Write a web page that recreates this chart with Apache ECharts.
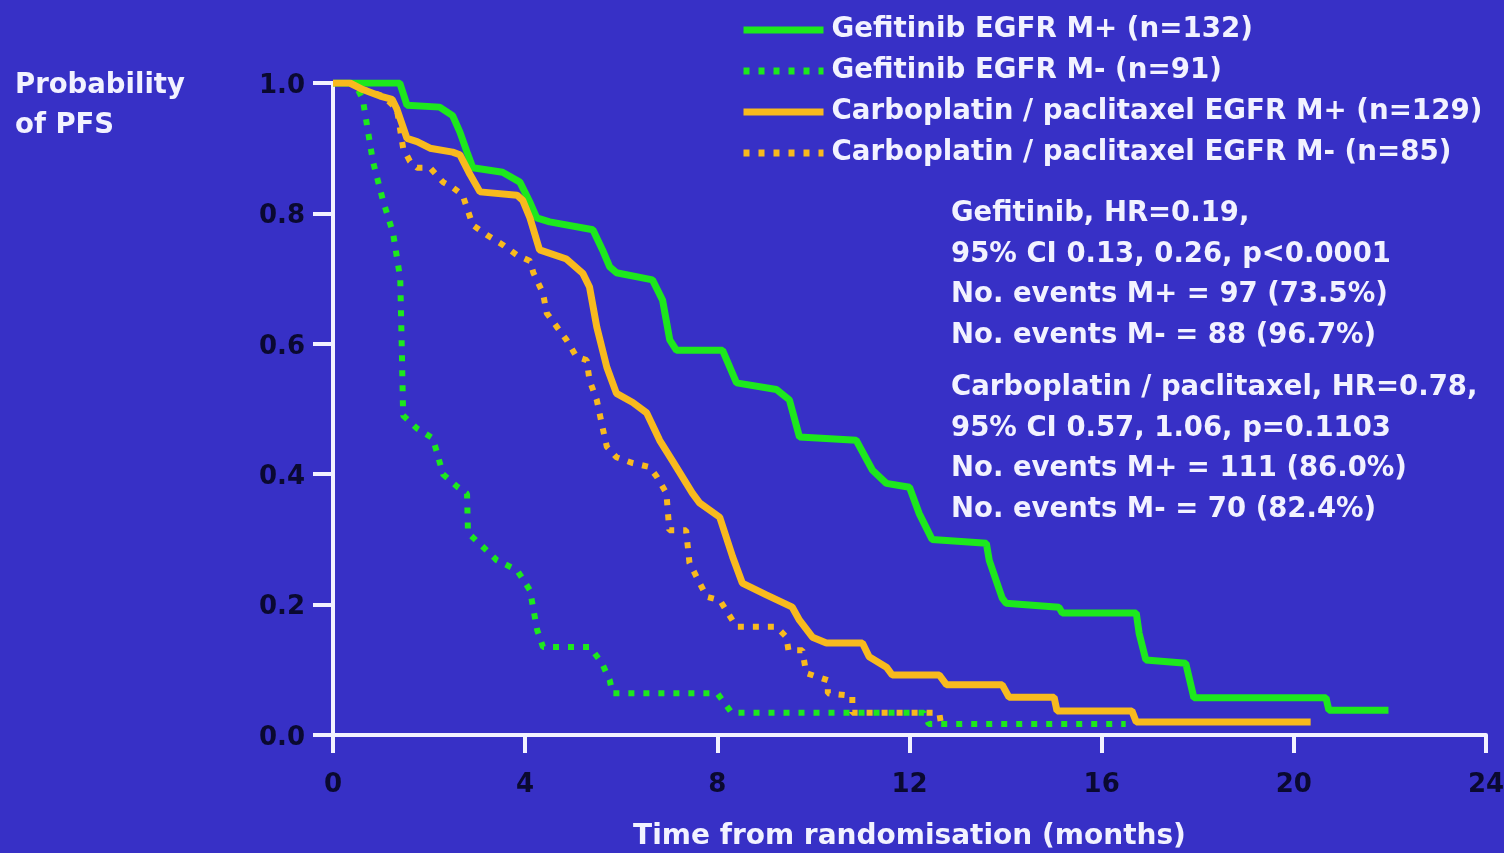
<!DOCTYPE html>
<html>
<head>
<meta charset="utf-8">
<script src="https://cdn.jsdelivr.net/npm/echarts@6/dist/echarts.min.js"></script>
<style>
html,body{margin:0;padding:0;background:#3730C6;overflow:hidden;}
#chart{width:1504px;height:853px;}
</style>
</head>
<body>
<div id="chart"></div>
<script>
// ---- data (time in months, probability of PFS) ----
const xTicks = [0, 4, 8, 12, 16, 20, 24];
const yTicks = [0.0, 0.2, 0.4, 0.6, 0.8, 1.0];

const seriesNames = [
  'Gefitinib EGFR M+ (n=132)',
  'Gefitinib EGFR M- (n=91)',
  'Carboplatin / paclitaxel EGFR M+ (n=129)',
  'Carboplatin / paclitaxel EGFR M- (n=85)'
];

const gefitinibPos = [
  [0,1.0],[1.39,1.0],[1.54,0.966],[2.22,0.963],[2.49,0.95],[2.64,0.925],[2.79,0.894],[2.91,0.87],
  [3.53,0.863],[3.89,0.848],[4.10,0.817],[4.24,0.793],[4.51,0.787],[5.41,0.775],[5.61,0.744],
  [5.76,0.718],[5.90,0.709],[6.65,0.698],[6.86,0.667],[7.01,0.606],[7.15,0.59],[8.11,0.59],
  [8.40,0.54],[9.23,0.53],[9.50,0.514],[9.71,0.457],[10.89,0.452],[11.23,0.406],[11.52,0.386],
  [12.0,0.38],[12.2,0.34],[12.47,0.30],[13.6,0.294],[13.66,0.268],[13.93,0.21],[14.01,0.202],
  [15.11,0.196],[15.18,0.187],[16.72,0.187],[16.78,0.156],[16.92,0.115],[17.75,0.11],
  [17.92,0.057],[20.67,0.057],[20.73,0.038],[21.97,0.038]
];

const gefitinibNeg = [
  [0,1.0],[0.45,1.0],[0.62,0.975],[0.83,0.88],[1.04,0.82],[1.25,0.77],[1.40,0.70],[1.43,0.60],
  [1.46,0.49],[1.75,0.47],[2.08,0.455],[2.29,0.40],[2.6,0.38],[2.79,0.37],[2.81,0.31],[3.1,0.29],
  [3.41,0.268],[3.83,0.253],[4.1,0.222],[4.25,0.161],[4.37,0.135],[5.35,0.135],[5.6,0.11],
  [5.76,0.084],[5.82,0.064],[8.0,0.064],[8.3,0.034],[12.3,0.034],[12.4,0.017],[16.5,0.017]
];

const carboPos = [
  [0,1.0],[0.35,1.0],[0.62,0.99],[0.98,0.98],[1.23,0.975],[1.33,0.96],[1.54,0.915],[1.75,0.91],
  [2.02,0.90],[2.49,0.894],[2.64,0.89],[2.85,0.86],[3.06,0.833],[3.83,0.828],[3.95,0.82],
  [4.10,0.793],[4.30,0.744],[4.86,0.73],[5.20,0.708],[5.34,0.687],[5.49,0.626],[5.70,0.564],
  [5.90,0.524],[6.24,0.51],[6.53,0.494],[6.80,0.452],[7.07,0.42],[7.48,0.371],[7.63,0.356],
  [8.05,0.334],[8.32,0.273],[8.52,0.233],[9.02,0.215],[9.56,0.196],[9.71,0.176],[9.98,0.15],
  [10.27,0.141],[11.02,0.141],[11.16,0.12],[11.52,0.104],[11.64,0.092],[12.62,0.092],
  [12.77,0.077],[13.93,0.077],[14.07,0.058],[15.01,0.058],[15.07,0.037],[16.63,0.037],
  [16.72,0.02],[20.35,0.02]
];

const carboNeg = [
  [0,1.0],[0.35,1.0],[0.62,0.99],[1.04,0.98],[1.33,0.96],[1.46,0.90],[1.60,0.88],[1.75,0.87],
  [2.02,0.87],[2.29,0.848],[2.49,0.84],[2.70,0.828],[2.79,0.808],[2.91,0.782],[3.20,0.767],
  [3.53,0.752],[3.83,0.736],[4.10,0.727],[4.17,0.709],[4.37,0.678],[4.45,0.647],[4.66,0.626],
  [4.86,0.606],[5.07,0.58],[5.28,0.575],[5.34,0.544],[5.49,0.514],[5.61,0.472],[5.70,0.442],
  [5.90,0.426],[6.24,0.417],[6.59,0.411],[6.74,0.396],[6.94,0.371],[7.0,0.314],[7.35,0.314],
  [7.42,0.264],[7.78,0.212],[8.05,0.207],[8.40,0.166],[9.23,0.166],[9.44,0.15],[9.48,0.13],
  [9.77,0.13],[9.85,0.095],[10.3,0.084],[10.3,0.064],[10.81,0.06],[10.81,0.034],[12.62,0.034],
  [12.66,0.015]
];

const statsGefitinib = [
  'Gefitinib, HR=0.19,',
  '95% CI 0.13, 0.26, p<0.0001',
  'No. events M+ = 97 (73.5%)',
  'No. events M- = 88 (96.7%)'
];
const statsCarbo = [
  'Carboplatin / paclitaxel, HR=0.78,',
  '95% CI 0.57, 1.06, p=0.1103',
  'No. events M+ = 111 (86.0%)',
  'No. events M- = 70 (82.4%)'
];

// ---- styling ----
const BG = '#3730C6';
const GREEN = '#1DE81D';
const ORANGE = '#F8BA1E';
const WHITE = '#F2F2FF';
const DARK = '#0A0930';
const FONT = 'DejaVu Sans';

const chart = echarts.init(document.getElementById('chart'), null, {renderer: 'canvas', width: 1504, height: 853});

function lineSeries(name, data, color, dotted, z) {
  return {
    name: name,
    type: 'line',
    data: data,
    showSymbol: false,
    symbol: 'none',
    legendIcon: 'none',
    z: z,
    lineStyle: {
      color: color,
      width: dotted ? 6 : 7,
      type: dotted ? [6, 9] : 'solid',
      cap: 'butt'
    },
    itemStyle: {color: color},
    emphasis: {disabled: true}
  };
}

const option = {
  backgroundColor: BG,
  animation: false,
  textStyle: {fontFamily: FONT},
  title: {
    text: 'Probability\nof PFS',
    left: 10,
    top: 61,
    textStyle: {
      color: WHITE, fontFamily: FONT, fontWeight: 'bold', fontSize: 27.5, lineHeight: 40
    }
  },
  legend: {
    orient: 'vertical',
    left: 735,
    top: 10,
    itemWidth: 80,
    itemHeight: 14,
    itemGap: 11,
    data: seriesNames,
    lineStyle: {width: 7},
    itemStyle: {opacity: 0, borderWidth: 0},
    textStyle: {
      color: WHITE, fontFamily: FONT, fontWeight: 'bold', fontSize: 27.7, lineHeight: 30,
      padding: [0, 0, 0, 3]
    },
    selectedMode: false
  },
  grid: {left: 333, right: 18, top: 83, bottom: 118, containLabel: false, outerBoundsMode: 'none'},
  xAxis: {
    type: 'value',
    min: xTicks[0],
    max: xTicks[xTicks.length - 1],
    interval: 4,
    name: 'Time from randomisation (months)',
    nameLocation: 'middle',
    nameGap: 88,
    nameTextStyle: {color: WHITE, fontFamily: FONT, fontWeight: 'bold', fontSize: 28},
    axisLine: {show: true, onZero: false, lineStyle: {color: WHITE, width: 4}},
    axisTick: {show: true, inside: false, length: 18, lineStyle: {color: WHITE, width: 4}},
    axisLabel: {
      color: DARK, fontFamily: FONT, fontWeight: 'bold', fontSize: 26, margin: 37,
      hideOverlap: false,
      formatter: v => xTicks.includes(v) ? String(v) : ''
    },
    splitLine: {show: false}
  },
  yAxis: {
    type: 'value',
    min: yTicks[0],
    max: yTicks[yTicks.length - 1],
    interval: 0.2,
    axisLine: {show: true, onZero: false, lineStyle: {color: WHITE, width: 4}},
    axisTick: {show: true, inside: false, length: 20, lineStyle: {color: WHITE, width: 4}},
    axisLabel: {
      color: DARK, fontFamily: FONT, fontWeight: 'bold', fontSize: 26, margin: 28,
      verticalAlign: 'top', lineHeight: 6,
      formatter: v => v.toFixed(1)
    },
    splitLine: {show: false}
  },
  graphic: [
    {
      type: 'text', left: 951, top: 194, silent: true,
      style: {
        text: statsGefitinib.join('\n'), fill: WHITE, font: 'bold 27.5px "DejaVu Sans"',
        lineHeight: 40.5
      }
    },
    {
      type: 'text', left: 951, top: 368, silent: true,
      style: {
        text: statsCarbo.join('\n'), fill: WHITE, font: 'bold 27.5px "DejaVu Sans"',
        lineHeight: 40.5
      }
    }
  ],
  series: [
    lineSeries(seriesNames[0], gefitinibPos, GREEN, false, 4),
    lineSeries(seriesNames[1], gefitinibNeg, GREEN, true, 2),
    lineSeries(seriesNames[2], carboPos, ORANGE, false, 5),
    lineSeries(seriesNames[3], carboNeg, ORANGE, true, 3)
  ]
};

chart.setOption(option);
</script>
</body>
</html>
